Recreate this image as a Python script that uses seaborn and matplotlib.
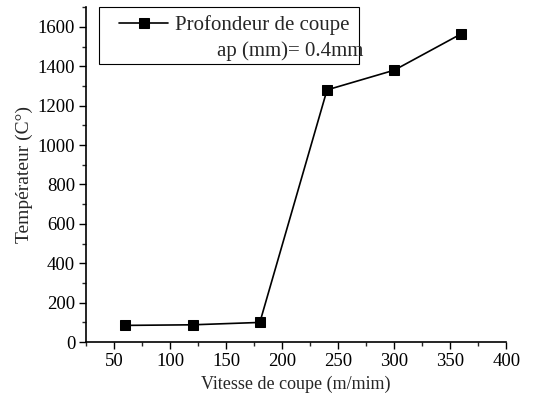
import matplotlib
matplotlib.use("Agg")
import matplotlib.pyplot as plt
import seaborn as sns
import pandas as pd
from matplotlib.patches import Rectangle
from matplotlib.ticker import MultipleLocator

vitesse = [60, 120, 180, 240, 300, 360]
temperature = [85, 88, 100, 1280, 1380, 1565]
series_label = "Profondeur de coupe"
note = "ap (mm)= 0.4mm"

df = pd.DataFrame({"Vitesse": vitesse, "Temp": temperature})

sns.set_theme(style="ticks")
plt.rcParams["font.family"] = ["Liberation Serif", "DejaVu Serif"]

fig = plt.figure(figsize=(5.6, 3.96), dpi=100)
ax = fig.add_axes([0.154, 0.136, 0.75, 0.846])

sns.lineplot(data=df, x="Vitesse", y="Temp", ax=ax, color="black", marker="s",
             markersize=7, markeredgecolor="black", linewidth=1.2, label=series_label)

ax.set_xlim(25, 400)
ax.set_ylim(0, 1700)
ax.xaxis.set_major_locator(MultipleLocator(50))
ax.xaxis.set_minor_locator(MultipleLocator(25))
ax.yaxis.set_major_locator(MultipleLocator(200))
ax.yaxis.set_minor_locator(MultipleLocator(100))
ax.tick_params(which="major", direction="out", length=5, width=1, labelsize=13.5, colors="black", pad=3)
ax.tick_params(which="minor", direction="out", length=3, width=1)
for s in ["top", "right"]:
    ax.spines[s].set_visible(False)
for s in ["left", "bottom"]:
    ax.spines[s].set_linewidth(1.2)
    ax.spines[s].set_color("black")

ax.set_xlabel("Vitesse de coupe (m/mim)", fontsize=13, labelpad=4)
ax.set_ylabel("Températeur (C°)", fontsize=14, labelpad=3)

leg = ax.legend(loc="center left", bbox_to_anchor=(0.079, 0.946), frameon=False,
                fontsize=15, handlelength=2.35, handletextpad=0.33, borderaxespad=0,
                borderpad=0)
ax.add_patch(Rectangle((0.031, 0.830), 0.619, 0.17, transform=ax.transAxes,
                       fill=False, edgecolor="black", linewidth=0.8, clip_on=False))
ax.text(0.66, 0.869, note, transform=ax.transAxes, ha="right", va="center", fontsize=15)

fig.savefig("out.png", dpi=100)
